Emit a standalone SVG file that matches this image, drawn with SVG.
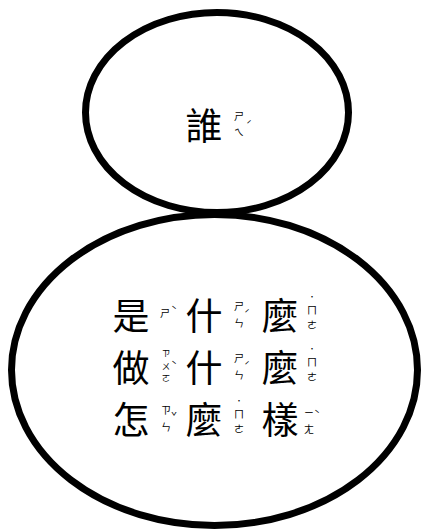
<svg xmlns="http://www.w3.org/2000/svg" width="426" height="532" viewBox="0 0 426 532">
<style>
.shape{fill:#fff;stroke:#000;stroke-width:7}
.h{font-family:"Noto Sans CJK TC","Noto Sans CJK SC",sans-serif;font-size:37px;fill:#000;text-anchor:middle;dominant-baseline:central}
.b{font-family:"Noto Sans CJK TC","Noto Sans CJK SC",sans-serif;font-size:10px;fill:#000;text-anchor:middle;dominant-baseline:central}
.s{font-size:8.5px}
.d{font-size:8px}
</style>
<rect width="426" height="532" fill="#fff"/>
<g id="who">
<ellipse class="shape" cx="217" cy="112.5" rx="131.5" ry="100"/>
<text class="h" x="204" y="124">誰</text>
<text class="b" x="239" y="115">ㄕ</text>
<text class="b" x="239" y="131">ㄟ</text>
<text class="b" x="249" y="124">ˊ</text>
</g>
<g id="questions">
<ellipse class="shape" cx="214.5" cy="370" rx="203" ry="155.5"/>
<!-- row 1 -->
<text class="h" x="131" y="314">是</text>
<text class="b" x="165" y="312">ㄕ</text>
<text class="b" x="174" y="309">ˋ</text>
<text class="h" x="204" y="314">什</text>
<text class="b" x="239" y="305">ㄕ</text>
<text class="b" x="239" y="322">ㄣ</text>
<text class="b" x="247" y="313">ˊ</text>
<text class="h" x="280" y="314">麼</text>
<text class="b d" x="312" y="296">˙</text>
<text class="b" x="312" y="309">ㄇ</text>
<text class="b" x="312" y="324">ㄜ</text>
<!-- row 2 -->
<text class="h" x="131" y="366">做</text>
<text class="b s" x="166" y="352">ㄗ</text>
<text class="b s" x="166" y="364.5">ㄨ</text>
<text class="b s" x="166" y="377">ㄛ</text>
<text class="b" x="174" y="364">ˋ</text>
<text class="h" x="204" y="366">什</text>
<text class="b" x="239" y="357">ㄕ</text>
<text class="b" x="239" y="374">ㄣ</text>
<text class="b" x="247" y="365">ˊ</text>
<text class="h" x="280" y="366">麼</text>
<text class="b d" x="312" y="348">˙</text>
<text class="b" x="312" y="361">ㄇ</text>
<text class="b" x="312" y="376">ㄜ</text>
<!-- row 3 -->
<text class="h" x="131" y="418">怎</text>
<text class="b" x="166" y="409">ㄗ</text>
<text class="b" x="166" y="426">ㄣ</text>
<text class="b" x="174" y="416">ˇ</text>
<text class="h" x="204" y="418">麼</text>
<text class="b d" x="239" y="400">˙</text>
<text class="b" x="239" y="413">ㄇ</text>
<text class="b" x="239" y="428">ㄜ</text>
<text class="h" x="280" y="418">樣</text>
<text class="b" x="309" y="412">ㄧ</text>
<text class="b" x="309" y="428">ㄤ</text>
<text class="b" x="317" y="413">ˋ</text>
</g>
</svg>
